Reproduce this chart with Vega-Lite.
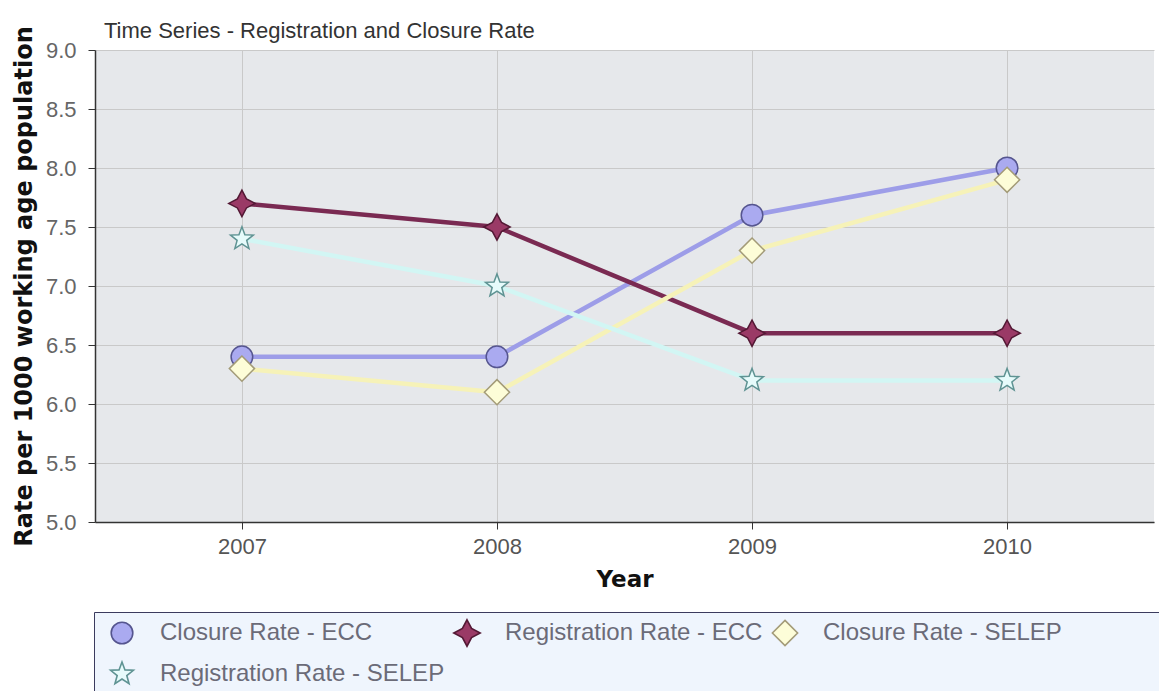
{
  "$schema": "https://vega.github.io/schema/vega-lite/v6.json",
  "width": 1059,
  "height": 472,
  "autosize": {"type": "none"},
  "padding": {"left": 95, "top": 50, "right": 5, "bottom": 169},
  "background": "white",
  "title": {
    "text": "Time Series - Registration and Closure Rate",
    "anchor": "start",
    "frame": "group",
    "offset": 12,
    "dx": 9,
    "dy": 46,
    "baseline": "alphabetic",
    "font": "Liberation Sans",
    "fontSize": 22,
    "fontWeight": "normal",
    "color": "#333333"
  },
  "data": {
    "values": [
      {"Year": "2007", "Series": "Closure Rate - ECC", "Rate": 6.4},
      {"Year": "2008", "Series": "Closure Rate - ECC", "Rate": 6.4},
      {"Year": "2009", "Series": "Closure Rate - ECC", "Rate": 7.6},
      {"Year": "2010", "Series": "Closure Rate - ECC", "Rate": 8.0},
      {"Year": "2007", "Series": "Registration Rate - ECC", "Rate": 7.7},
      {"Year": "2008", "Series": "Registration Rate - ECC", "Rate": 7.5},
      {"Year": "2009", "Series": "Registration Rate - ECC", "Rate": 6.6},
      {"Year": "2010", "Series": "Registration Rate - ECC", "Rate": 6.6},
      {"Year": "2007", "Series": "Closure Rate - SELEP", "Rate": 6.3},
      {"Year": "2008", "Series": "Closure Rate - SELEP", "Rate": 6.1},
      {"Year": "2009", "Series": "Closure Rate - SELEP", "Rate": 7.3},
      {"Year": "2010", "Series": "Closure Rate - SELEP", "Rate": 7.9},
      {"Year": "2007", "Series": "Registration Rate - SELEP", "Rate": 7.4},
      {"Year": "2008", "Series": "Registration Rate - SELEP", "Rate": 7.0},
      {"Year": "2009", "Series": "Registration Rate - SELEP", "Rate": 6.2},
      {"Year": "2010", "Series": "Registration Rate - SELEP", "Rate": 6.2}
    ]
  },
  "encoding": {
    "x": {
      "field": "Year",
      "type": "ordinal",
      "scale": {"type": "point", "padding": 0.576},
      "axis": {
        "title": "Year",
        "labelAngle": 0,
        "labelFont": "Liberation Sans",
        "labelFontSize": 22,
        "labelColor": "#555555",
        "labelPadding": 7,
        "tickSize": 7,
        "tickColor": "#333333",
        "domainColor": "#333333",
        "domainWidth": 1.5,
        "grid": true,
        "gridColor": "#c9c9c9",
        "titleFont": "DejaVu Sans",
        "titleFontSize": 23,
        "titleFontWeight": "bold",
        "titleColor": "#111111",
        "titlePadding": 11
      }
    },
    "y": {
      "field": "Rate",
      "type": "quantitative",
      "scale": {"domain": [5, 9], "nice": false, "zero": false},
      "axis": {
        "title": "Rate per 1000 working age population",
        "values": [5, 5.5, 6, 6.5, 7, 7.5, 8, 8.5, 9],
        "format": ".1f",
        "labelFont": "Liberation Sans",
        "labelFontSize": 22,
        "labelColor": "#666666",
        "labelPadding": 12,
        "tickSize": 7,
        "tickColor": "#333333",
        "domainColor": "#333333",
        "domainWidth": 1.5,
        "grid": true,
        "gridColor": "#c9c9c9",
        "titleFont": "DejaVu Sans",
        "titleFontSize": 24,
        "titleFontWeight": "bold",
        "titleColor": "#111111",
        "titlePadding": 9
      }
    }
  },
  "layer": [
    {
      "mark": {"type": "line", "strokeCap": "round", "strokeJoin": "round", "strokeWidth": 4.5},
      "encoding": {
        "color": {
          "field": "Series",
          "type": "nominal",
          "scale": {
            "domain": ["Registration Rate - SELEP", "Closure Rate - SELEP", "Registration Rate - ECC", "Closure Rate - ECC"],
            "range": ["#d2f6f4", "#f6f2b8", "#7a2a52", "#9d9de8"]
          },
          "legend": null
        }
      }
    },
    {
      "mark": {"type": "point", "filled": true, "size": 576, "strokeWidth": 1.5, "opacity": 1},
      "encoding": {
        "fill": {
          "field": "Series",
          "type": "nominal",
          "scale": {
            "domain": ["Closure Rate - ECC", "Registration Rate - ECC", "Closure Rate - SELEP", "Registration Rate - SELEP"],
            "range": ["#aaaaf0", "#9a3a66", "#fdfdd8", "#e6fbfb"]
          },
          "legend": {
            "title": " ",
            "titleOrient": "right",
            "titlePadding": 112,
            "titleFontSize": 10,
            "gridAlign": "none"
          }
        },
        "stroke": {
          "field": "Series",
          "type": "nominal",
          "scale": {
            "domain": ["Closure Rate - ECC", "Registration Rate - ECC", "Closure Rate - SELEP", "Registration Rate - SELEP"],
            "range": ["#55558f", "#531834", "#a39b78", "#5f9393"]
          },
          "legend": {
            "title": " ",
            "titleOrient": "right",
            "titlePadding": 112,
            "titleFontSize": 10,
            "gridAlign": "none"
          }
        },
        "shape": {
          "field": "Series",
          "type": "nominal",
          "scale": {
            "domain": ["Closure Rate - ECC", "Registration Rate - ECC", "Closure Rate - SELEP", "Registration Rate - SELEP"],
            "range": [
              "M-0.9,0A0.9,0.9 0 1,0 0.9,0A0.9,0.9 0 1,0 -0.9,0Z",
              "M0,-1.1L0.38,-0.38L1.1,0L0.38,0.38L0,1.1L-0.38,0.38L-1.1,0L-0.38,-0.38Z",
              "M0,-1.05L1.05,0L0,1.05L-1.05,0Z",
              "M0,-1L0.247,-0.341L0.951,-0.309L0.4,0.131L0.588,0.809L0,0.42L-0.588,0.809L-0.4,0.131L-0.951,-0.309L-0.247,-0.341Z"
            ]
          },
          "legend": {
            "title": " ",
            "titleOrient": "right",
            "titlePadding": 112,
            "titleFontSize": 10,
            "gridAlign": "none"
          }
        }
      }
    }
  ],
  "config": {
    "view": {"fill": "#e6e8eb", "stroke": null},
    "legend": {
      "orient": "none",
      "legendX": -1,
      "legendY": 562,
      "direction": "horizontal",
      "columns": 3,
      "gridAlign": "none",
      "padding": 8,
      "rowPadding": 8,
      "columnPadding": 2,
      "symbolOffset": 7,
      "labelOffset": 25,
      "symbolSize": 576,
      "symbolStrokeWidth": 1.6,
      "labelFont": "Liberation Sans",
      "labelFontSize": 24,
      "labelColor": "#6b6b78",
      "labelLimit": 0,
      "fillColor": "#eff5fd",
      "strokeColor": "#3b3b5e",
      "cornerRadius": 0
    }
  }
}
